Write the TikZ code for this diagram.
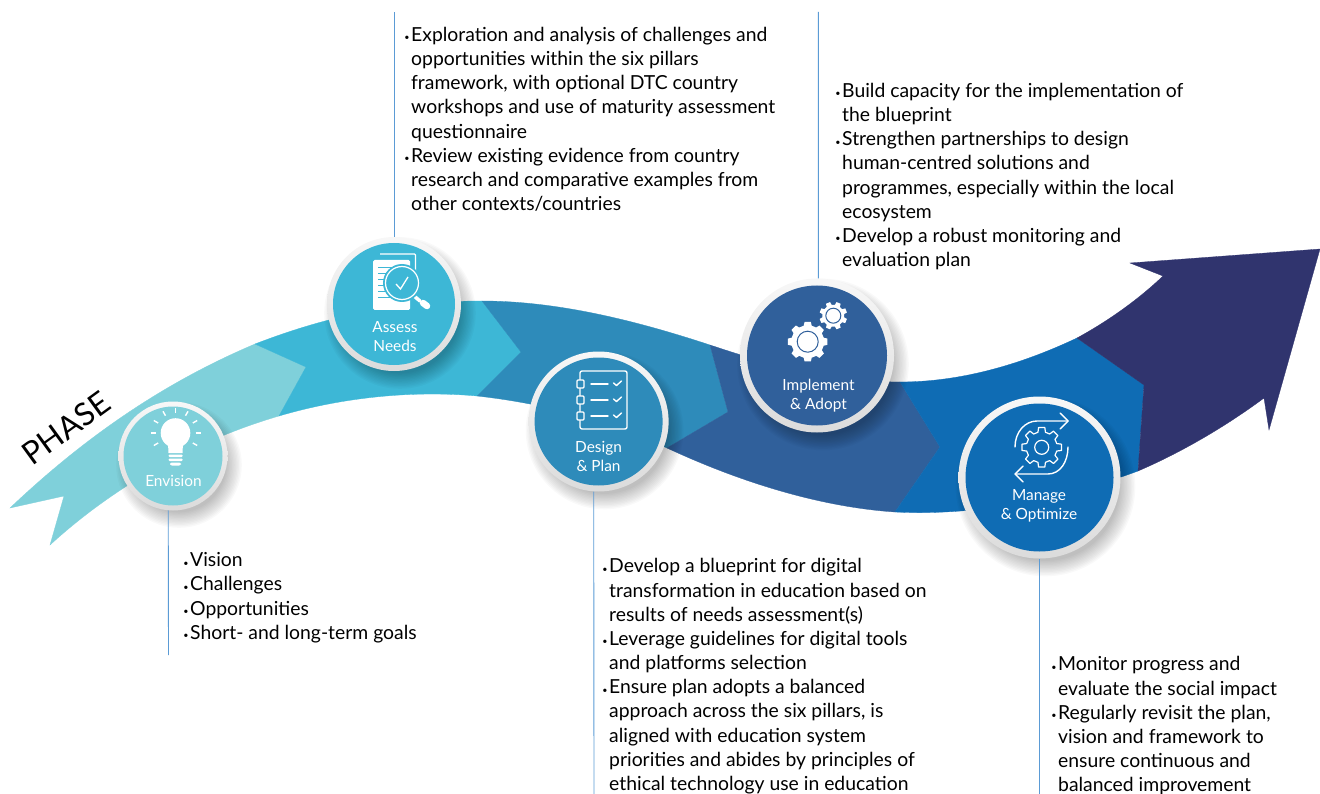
\documentclass[tikz,border=0pt]{standalone}
\usepackage{fontspec}
\setmainfont{Lato}
\definecolor{phaseone}{HTML}{7FD0DA}
\definecolor{phasetwo}{HTML}{3DB7D6}
\definecolor{phasethree}{HTML}{2E8BBA}
\definecolor{phasefour}{HTML}{30609B}
\definecolor{phasefive}{HTML}{0F6CB4}
\definecolor{phasesix}{HTML}{30346E}
\definecolor{stemblue}{HTML}{5B9BD5}
\newcommand{\bul}{\llap{\raisebox{0.5pt}{\small\textbullet}\hspace{1.5pt}}}
\newcommand{\gearpath}[3]{({#3-14}:#1) \foreach \a in {0,45,...,315} { -- ({\a+#3-14}:#1) -- ({\a+#3-9}:#2) -- ({\a+#3+9}:#2) -- ({\a+#3+14}:#1) } -- cycle}
\tikzset{
	band/.style={fill=#1, draw=#1, line width=0.3pt},
	ringdisc/.style={circle, inner sep=0pt, minimum size=#1, top color=white!97!black, bottom color=white!86!black},
	stepdisc/.style={circle, inner sep=0pt, minimum size=#1},
	steplabel/.style={text=white, align=center, font=\fontsize{15.4}{19.3}\selectfont, inner sep=0pt},
	stemline/.style={draw=stemblue, line width=0.9pt},
	bullettext/.style={anchor=north west, align=left, inner sep=0pt, font=\fontsize{19.35}{24.15}\selectfont},
	iconline/.style={draw=white, line width=1.4pt, line cap=round, line join=round}
}
\begin{document}
\begin{tikzpicture}[x=1pt, y=-1pt]
	\useasboundingbox (0, 0) rectangle (1320, 794);
	
	% Dải mũi tên
	\draw[band=phaseone] (10, 508) .. controls (90, 432) and (170, 380) .. (255, 344) -- (306, 367) -- (279, 416) .. controls (190, 442) and (110, 490) .. (50, 545) -- (64, 496) -- cycle;
	\draw[band=phasetwo] (255, 344) .. controls (330, 315) and (400, 301) .. (482, 301) -- (521, 352) -- (477, 396) .. controls (410, 390) and (340, 398) .. (279, 416) -- (306, 367) -- cycle;
	\draw[band=phasethree] (482, 301) .. controls (560, 301) and (640, 322) .. (710, 345) -- (728, 412) -- (667, 448) .. controls (600, 418) and (540, 403) .. (477, 396) -- (521, 352) -- cycle;
	\draw[band=phasefour] (710, 345) .. controls (770, 365) and (830, 382) .. (900, 382) -- (940, 447) -- (895, 512) .. controls (820, 507) and (740, 482) .. (667, 448) -- (728, 412) -- cycle;
	\draw[band=phasefive] (900, 382) .. controls (960, 382) and (1020, 365) .. (1077, 338) -- (1144, 385) -- (1138, 471) .. controls (1060, 500) and (975, 516) .. (895, 512) -- (940, 447) -- cycle;
	\draw[band=phasesix] (1077, 338) .. controls (1110, 320) and (1140, 298) .. (1163, 276) -- (1130, 263) -- (1320, 249) -- (1269, 430) -- (1264, 398) .. controls (1225, 427) and (1180, 453) .. (1138, 471) -- (1144, 385) -- cycle;
	
	\node[rotate=36, font=\fontsize{31.5}{31.5}\selectfont, inner sep=0pt] (phase) at (66, 428) {PHASE};
	
	% Bóng của các vòng tròn
	\foreach \cx/\cy/\cr in {173/456/54, 394/304/67, 598.6/421.5/70, 817/355.5/77, 1039.5/477.5/81}
		\foreach \k in {1,...,12}
			\fill[black, opacity=0.025] (\cx+6, \cy+9) circle ({\cr+\k*1.4-8});
	
	% Các vòng tròn
	\node[ringdisc=109pt] (envring) at (173, 456) {};
	\node[stepdisc=99pt, fill=phaseone] (env) at (173, 456) {};
	\node[ringdisc=134pt] (assessring) at (394, 304) {};
	\node[stepdisc=122pt, fill=phasetwo] (assess) at (394, 304) {};
	\node[ringdisc=140pt] (designring) at (598.6, 421.5) {};
	\node[stepdisc=128pt, fill=phasethree] (design) at (598.6, 421.5) {};
	\node[ringdisc=154pt] (implring) at (817, 355.5) {};
	\node[stepdisc=140pt, fill=phasefour] (impl) at (817, 355.5) {};
	\node[ringdisc=162pt] (manring) at (1039.5, 477.5) {};
	\node[stepdisc=148pt, fill=phasefive] (man) at (1039.5, 477.5) {};
	
	\node[steplabel] (envlabel) at (173.5, 480.5) {Envision};
	\node[steplabel] (assesslabel) at (395, 336.8) {Assess\\Needs};
	\node[steplabel] (designlabel) at (598.5, 456.5) {Design\\\& Plan};
	\node[steplabel] (impllabel) at (818.5, 395.3) {Implement\\\& Adopt};
	\node[steplabel] (manlabel) at (1039, 505.8) {Manage\\\& Optimize};
	
	% Đường dẫn
	\coordinate (envend) at (168.5, 655);
	\coordinate (assessend) at (394, 12);
	\coordinate (designend) at (594, 794);
	\coordinate (implend) at (818.3, 12);
	\coordinate (manend) at (1039.5, 794);
	\draw[stemline] (envring.265) -- (envend);
	\draw[stemline] (assessring.north) -- (assessend);
	\draw[stemline] (designring.266) -- (designend);
	\draw[stemline] (implring.89) -- (implend);
	\draw[stemline] (manring.south) -- (manend);
	
	% Văn bản
	\node[bullettext] (envtext) at (190, 552.5) {\bul Vision\\\bul Challenges\\\bul Opportunities\\\bul Short- and long-term goals};
	\node[bullettext] (assesstext) at (411, 27) {\bul Exploration and analysis of challenges and\\opportunities within the six pillars\\framework, with optional DTC country\\workshops and use of maturity assessment\\questionnaire\\\bul Review existing evidence from country\\research and comparative examples from\\other contexts/countries};
	\node[bullettext] (impltext) at (842, 83) {\bul Build capacity for the implementation of\\the blueprint\\\bul Strengthen partnerships to design\\human-centred solutions and\\programmes, especially within the local\\ecosystem\\\bul Develop a robust monitoring and\\evaluation plan};
	\node[bullettext] (designtext) at (609, 558.5) {\bul Develop a blueprint for digital\\transformation in education based on\\results of needs assessment(s)\\\bul Leverage guidelines for digital tools\\and platforms selection\\\bul Ensure plan adopts a balanced\\approach across the six pillars, is\\aligned with education system\\priorities and abides by principles of\\ethical technology use in education};
	\node[bullettext] (mantext) at (1058, 656.5) {\bul Monitor progress and\\evaluate the social impact\\\bul Regularly revisit the plan,\\vision and framework to\\ensure continuous and\\balanced improvement};
	
	% Biểu tượng: bóng đèn
	\fill[white] (175.5, 433) circle (14.8);
	\fill[white] (168, 443) -- (183, 443) -- (182.5, 453) -- (168.5, 453) -- cycle;
	\fill[white, rounded corners=1pt] (168.5, 454.5) rectangle (182.5, 457);
	\fill[white, rounded corners=1pt] (168.5, 458.5) rectangle (182.5, 461);
	\fill[white, rounded corners=2pt] (170, 462.5) rectangle (181, 465.5);
	\foreach \a in {-30,0,30,60,90,120,150,180,210}
		\draw[white, line width=1.4pt, shift={(175.5, 433)}] (\a+180:20) -- (\a+180:25);
	
	% Biểu tượng: tài liệu và kính lúp
	\draw[white, line width=1.2pt, rounded corners=1pt] (380, 254) -- (415.5, 254) -- (415.5, 272);
	\fill[white, rounded corners=1.5pt] (373, 260) rectangle (410, 310);
	\foreach \y in {267,273,...,297}
		\draw[phasetwo, line width=0.8pt] (378, \y) -- (392, \y);
	\draw[white, line width=3.5pt, line cap=round] (414, 296) -- (420, 301);
	\draw[white, line width=6.5pt, line cap=round] (423, 303) -- (427, 306);
	\fill[phasetwo] (402, 283) circle (19);
	\draw[white, line width=1.2pt] (402, 283) circle (16.5);
	\draw[white, line width=1.3pt] (396, 284) -- (400.5, 289) -- (408, 277);
	
	% Biểu tượng: danh sách
	\draw[iconline, rounded corners=2pt] (580, 371) rectangle (627, 429);
	\foreach \y/\l in {384/384, 400/400, 416/416} {
		\draw[iconline, fill=phasethree, rounded corners=1pt] (577, \y-4) rectangle (584, \y+4);
		\draw[iconline] (591, \l) -- (608, \l);
		\draw[iconline] (613.5, \l-1) -- (616.5, \l+1.5) -- (621.5, \l-3);
	}
	
	% Biểu tượng: bánh răng
	\fill[white, shift={(807.7, 341.7)}] \gearpath{16.5}{20}{0};
	\draw[phasefour, line width=1pt] (807.7, 341.7) circle (10.5);
	\fill[white, shift={(833.3, 315.7)}] \gearpath{11}{14}{22.5};
	\draw[phasefour, line width=1pt] (833.3, 315.7) circle (7.5);
	
	% Biểu tượng: bánh răng và mũi tên
	\draw[iconline, line width=1.2pt, shift={(1041.7, 447.3)}] \gearpath{15.5}{20}{0};
	\draw[iconline, line width=1.2pt] (1041.7, 447.3) circle (7);
	\draw[iconline] (1015, 447) .. controls (1015, 432) and (1025, 421) .. (1037, 421) -- (1068, 421);
	\draw[iconline] (1060, 413) -- (1068, 421) -- (1060, 429);
	\draw[iconline] (1068, 447) .. controls (1068, 462) and (1060, 474) .. (1048, 474) -- (1015, 474);
	\draw[iconline] (1023, 466) -- (1015, 474) -- (1023, 482);
	
\end{tikzpicture}
\end{document}
